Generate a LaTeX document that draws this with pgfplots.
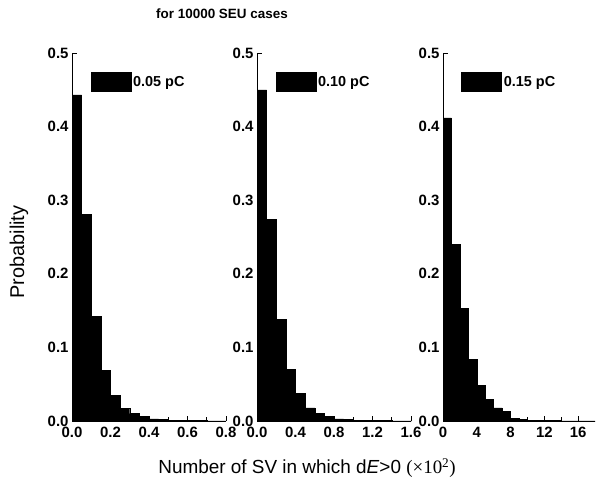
\documentclass[border=0pt]{standalone}
\usepackage{fontspec}
\setmainfont{Liberation Sans}
\newfontfamily\serifx{Liberation Serif}
\usepackage{pgfplots}
\pgfplotsset{compat=1.18}
\pgfplotsset{
 panel/.style={
  scale only axis, width=154bp, height=368bp,
  ymin=0, ymax=0.5, axis lines=left, axis line style={-, line width=1pt},
  tick align=inside, major tick length=5bp, minor tick length=4bp,
  every tick/.style={black, line width=0.9pt},
  ytick={0,0.1,0.2,0.3,0.4,0.5},
  yticklabel style={/pgf/number format/.cd,fixed,fixed zerofill,precision=1},
  /pgf/number format/assume math mode=true,
  ticklabel style={font=\fontsize{15}{15}\selectfont\bfseries},
  xticklabel style={yshift=-3bp},
  minor x tick num=1,
  legend style={draw=none, fill=none, at={(0.12,0.948)}, anchor=north west,
    font=\fontsize{14.5}{14.5}\selectfont\bfseries, inner sep=0pt},
 },
 bars/.style={ybar interval, fill=black, draw=black, line width=0.4pt,
   legend image code/.code={\fill[black] (0bp,-9.5bp) rectangle (40bp,9.5bp);}},
}
\begin{document}
\begin{tikzpicture}
\useasboundingbox (0,0) rectangle (596bp,-486bp);
\begin{axis}[panel, at={(72bp,-421bp)}, anchor=south west,
  xmin=0, xmax=0.8, xtick={0,0.2,0.4,0.6,0.8},
  xticklabel style={/pgf/number format/.cd,fixed,fixed zerofill,precision=1}]
\addplot[bars] coordinates {
 (0,0.443) (0.05,0.281) (0.10,0.142) (0.15,0.069) (0.20,0.035) (0.25,0.017)
 (0.30,0.010) (0.35,0.006) (0.40,0.003) (0.45,0.002) (0.50,0.001) (0.55,0.001)
 (0.60,0.0005) (0.65,0.0005) (0.70,0.0003) (0.75,0.0002) (0.80,0)};
\legend{0.05 pC}
\end{axis}
\begin{axis}[panel, at={(257bp,-421bp)}, anchor=south west,
  xmin=0, xmax=1.6, xtick={0,0.4,0.8,1.2,1.6},
  xticklabel style={/pgf/number format/.cd,fixed,fixed zerofill,precision=1}]
\addplot[bars] coordinates {
 (0,0.450) (0.1,0.274) (0.2,0.138) (0.3,0.070) (0.4,0.038) (0.5,0.018)
 (0.6,0.010) (0.7,0.006) (0.8,0.003) (0.9,0.002) (1.0,0.001) (1.1,0.001)
 (1.2,0.0005) (1.3,0.0005) (1.4,0.0003) (1.5,0.0002) (1.6,0)};
\legend{0.10 pC}
\end{axis}
\begin{axis}[panel, width=152bp, at={(443bp,-421bp)}, anchor=south west,
  xmin=0, xmax=18, xtick={0,4,8,12,16}]
\addplot[bars] coordinates {
 (0,0.412) (1,0.240) (2,0.153) (3,0.084) (4,0.048) (5,0.029) (6,0.018)
 (7,0.013) (8,0.004) (9,0.002) (10,0.001) (11,0.001) (12,0.0005) (13,0.0005)
 (14,0.0003) (15,0.0002) (16,0.0001) (17,0.0001) (18,0)};
\legend{0.15 pC}
\end{axis}
\node[font=\fontsize{13.5}{13.5}\selectfont\bfseries] at (222bp,-14bp) {for 10000 SEU cases};
\node[font=\fontsize{20}{20}\selectfont, rotate=90] at (19bp,-252bp) {Probability};
\node[font=\fontsize{19}{19}\selectfont] at (307bp,-468bp) {Number of SV in which d\textit{E}>0 {\serifx(×10\textsuperscript{2})}};
\end{tikzpicture}
\end{document}
